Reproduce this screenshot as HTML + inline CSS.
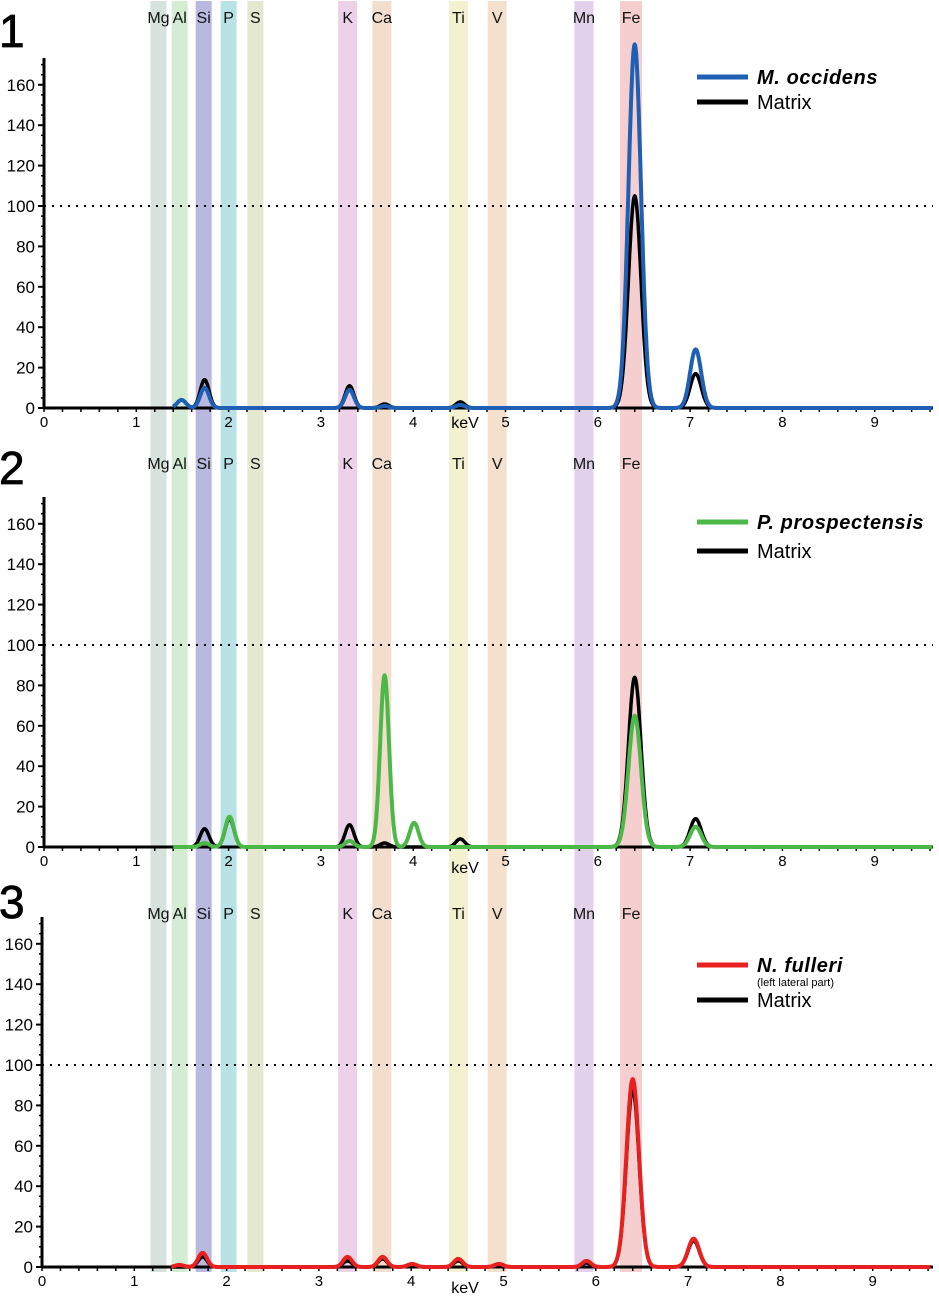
<!DOCTYPE html>
<html><head><meta charset="utf-8"><style>
body{margin:0;background:#fff;width:939px;height:1296px;overflow:hidden}
svg{display:block;font-family:"Liberation Sans",Arial,sans-serif}
</style></head><body>
<svg id="fig" width="939" height="1296" viewBox="0 0 939 1296"></svg>
<script>
const NS="http://www.w3.org/2000/svg";
const elements=["Mg","Al","Si","P","S","K","Ca","Ti","V","Mn","Fe"];
const elementKeV=[1.24,1.47,1.73,2.0,2.29,3.29,3.66,4.49,4.91,5.85,6.36];
const elementColors=["#d6e3dc","#d4ecd3","#b9b9df","#b8e2e6","#e5e7d1","#edd1e8","#f3ddcd","#f4f1d1","#f4e0cd","#e1d1ea","#f5cfcf"];
const yTicks=[0,20,40,60,80,100,120,140,160];
const xTicks=[0,1,2,3,4,5,6,7,8,9];
const p1Centers=[1.49,1.74,3.31,3.69,4.51,6.4,7.06];
const p1Sample=[4,10,9,1,1.5,180,29];
const p1Matrix=[4,14,11,2,3,105,17];
const p2Centers=[1.74,2.01,3.31,3.69,4.01,4.51,6.4,7.06];
const p2Sample=[2,15,3,85,12,0,65,10];
const p2Matrix=[9,14,11,2,0,4,84,14];
const p3Centers=[1.49,1.74,3.31,3.69,4.01,4.51,4.95,5.9,6.4,7.06];
const p3Sample=[1,7,5,5,1.5,4,1.5,3,93,14];
const p3Matrix=[0,5,3,4,1,3,0.5,2,88,13];

const panels=[
 {num:"1",y0:408,top:58,x0:44,lblY:17,sample:p1Sample,matrix:p1Matrix,centers:p1Centers,color:"#1f5fb4",name:"M. occidens",legY:77,legY2:102,numY:47},
 {num:"2",y0:847,top:497,x0:44,lblY:463,sample:p2Sample,matrix:p2Matrix,centers:p2Centers,color:"#4cb848",name:"P. prospectensis",legY:522,legY2:551,numY:484},
 {num:"3",y0:1267,top:917,x0:42,lblY:913,sample:p3Sample,matrix:p3Matrix,centers:p3Centers,color:"#e8201f",name:"N. fulleri",legY:965,legY2:1000,numY:918,sub:"(left lateral part)"}
];
const PXK=92.3, PXU=2.02;
const svg=document.getElementById("fig");
function mk(tag,attrs,parent){const e=document.createElementNS(NS,tag);for(const k in attrs)e.setAttribute(k,attrs[k]);(parent||svg).appendChild(e);return e;}

const bandG=mk("g",{});


elementKeV.forEach((k,i)=>{
 const x=44+k*PXK;
 const w=elements[i]=="Fe"?22:(k>3?19:16);
 const r=mk("rect",{x:x-w/2,y:1,width:w,height:1271,fill:elementColors[i]},bandG);
 
 
});

function sig(c){return c>6.9?0.06:(c>6?0.068:0.048);}
function curve(p,heights,sx,sy){
 let d="";
 for(let k=1.4;k<=9.63;k+=0.005){
  let v=0;
  p.centers.forEach((c,i)=>{const s=sig(c);v+=heights[i]*Math.exp(-((k-c)**2)/(2*s*s));});
  d+=(d?"L":"M")+sx(k).toFixed(1)+","+sy(v).toFixed(1);
 }
 return d;
}

panels.forEach((p,pi)=>{
 const g=mk("g",{});
 
 
 const sx=k=>p.x0+k*PXK, sy=v=>p.y0-v*PXU;
 const num=mk("text",{x:-1,y:p.numY,"font-size":46,fill:"#000",stroke:"#000","stroke-width":0.8},g);num.textContent=p.num;
 
 elements.forEach((el,i)=>{
  const t=mk("text",{x:44+elementKeV[i]*PXK,y:p.lblY+6,"font-size":16,"text-anchor":"middle",fill:"#111"},g);
  t.textContent=el;
  
 });
 const dl=mk("line",{x1:p.x0,x2:933,y1:sy(100),y2:sy(100),stroke:"#000","stroke-width":2,"stroke-dasharray":"2,6"},g);
 
 const ya=mk("line",{x1:p.x0,x2:p.x0,y1:p.top,y2:p.y0,stroke:"#000","stroke-width":3},g);
 
 for(let v=0;v<=170;v+=5){mk("line",{x1:p.x0-(v%20==0?6:3),x2:p.x0,y1:sy(v),y2:sy(v),stroke:"#000","stroke-width":v%20==0?2:1.5},g);}
 yTicks.forEach(v=>{const t=mk("text",{x:p.x0-9,y:sy(v)+6,"font-size":17,"text-anchor":"end",fill:"#000"},g);t.textContent=v;
  });
 const xa=mk("line",{x1:p.x0,x2:933,y1:p.y0,y2:p.y0,stroke:"#000","stroke-width":3},g);
 
 for(let k=0;k<=9.6;k+=0.2){mk("line",{x1:sx(k),x2:sx(k),y1:p.y0,y2:p.y0+4,stroke:"#000","stroke-width":1.5},g);}
 xTicks.forEach(k=>{const t=mk("text",{x:sx(k),y:p.y0+19,"font-size":15,"text-anchor":"middle",fill:"#000"},g);t.textContent=k;
  });
 const kv=mk("text",{x:465,y:p.y0+(pi==0?20:26),"font-size":16,"text-anchor":"middle"},g);kv.textContent="keV";
 
 const mline=mk("path",{d:curve(p,p.matrix,sx,sy),fill:"none",stroke:"#000","stroke-width":3.5,"stroke-linejoin":"round"},g);
 
 const sline=mk("path",{d:curve(p,p.sample,sx,sy),fill:"none",stroke:p.color,"stroke-width":4,"stroke-linejoin":"round"},g);
 
 const lg=mk("g",{},g);
 
 mk("line",{x1:697,x2:748,y1:p.legY,y2:p.legY,stroke:p.color,"stroke-width":5},lg);
 const ln=mk("text",{x:757,y:p.legY+7,"font-size":20,"font-weight":"bold","font-style":"italic","letter-spacing":"0.6"},lg);ln.textContent=p.name;
 
 if(p.sub){const s=mk("text",{x:757,y:p.legY+21,"font-size":11},lg);s.textContent=p.sub;
  }
 mk("line",{x1:697,x2:748,y1:p.legY2,y2:p.legY2,stroke:"#000","stroke-width":5},lg);
 const lm=mk("text",{x:757,y:p.legY2+7,"font-size":20},lg);lm.textContent="Matrix";
 
});
</script>
</body></html>
